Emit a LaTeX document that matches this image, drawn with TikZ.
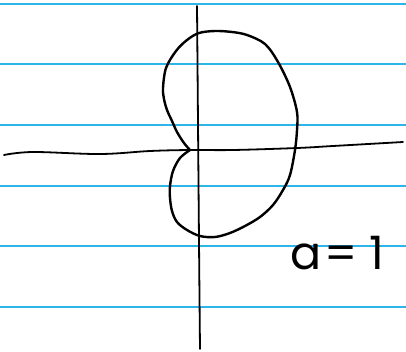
\documentclass[tikz,border=0pt]{standalone}
\usepackage{fontspec}
\newfontfamily\handfont{Poppins}
\definecolor{ruleblue}{RGB}{45,180,232}
\tikzset{
  rule/.style={ruleblue, line width=1.6pt},
  axis/.style={black, line width=1.8pt, line cap=round},
  curve/.style={black, line width=2.4pt, line cap=round, line join=round},
}
\begin{document}
\begin{tikzpicture}[x=1pt,y=-1pt]
\useasboundingbox (0,0) rectangle (406,351);
\fill[white] (0,0) rectangle (406,351);
% ruled lines
\foreach \y in {4,64,125,186,246,307}{
  \draw[rule] (0,\y) -- (406,\y);
}
% vertical axis
\coordinate (vt) at (197,6);
\coordinate (vb) at (200,349);
\draw[axis] (vt) .. controls (198,120) and (199,250) .. (vb);
% horizontal axis
\draw[axis] plot[smooth, tension=0.6] coordinates {(4,155) (33,152) (100,154) (150,151) (190,150) (233,150) (297,148) (333,146) (403,142)};
% cardioid
\draw[curve] plot[smooth, tension=0.55] coordinates {
 (190,150) (184,143) (177,132) (172,121) (167,110) (164,99) (163,88) (166,68) (176,51) (187,40) (199,33)
 (215,31) (232,32) (247,35) (265,44) (278,62) (290,87) (297,112) (297,130) (295,150) (290,175) (283,190)
 (273,205) (260,217) (245,226) (230,233) (215,237) (200,236) (187,230) (177,222) (172,211) (170,198) (170,186)
 (173,171) (180,158) (190,150)};
% label
\node[font=\handfont\fontsize{46}{50}\selectfont, inner sep=0pt, anchor=base west] (lbl) at (290,269) {a\kern3pt=\kern12pt1};
\end{tikzpicture}
\end{document}
